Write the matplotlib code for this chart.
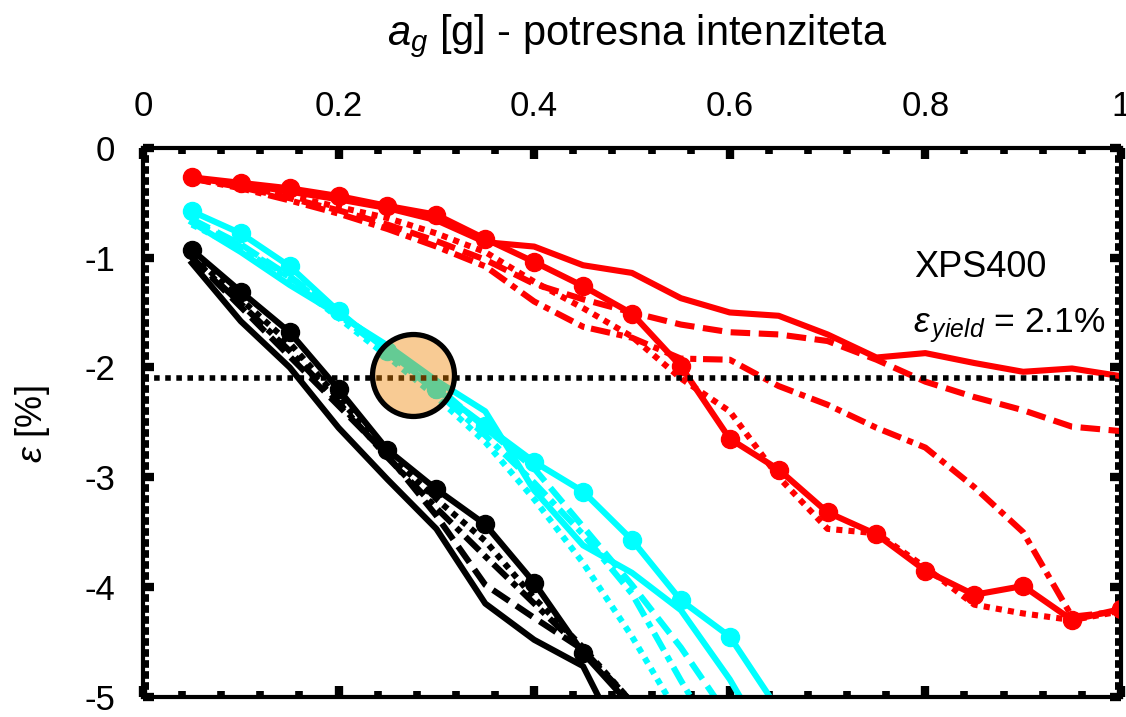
import matplotlib
matplotlib.use('Agg')
import matplotlib.pyplot as plt
from matplotlib.ticker import MultipleLocator, FixedLocator

plt.rcParams['font.family'] = ['Liberation Sans', 'DejaVu Sans']
plt.rcParams['mathtext.fontset'] = 'custom'
plt.rcParams['mathtext.rm'] = 'Liberation Sans'
plt.rcParams['mathtext.it'] = 'Liberation Sans:italic'

# ---- data ----
ag = [0.05, 0.10, 0.15, 0.20, 0.25, 0.30, 0.35, 0.40, 0.45, 0.50,
      0.55, 0.60, 0.65, 0.70, 0.75, 0.80, 0.85, 0.90, 0.95, 1.00]

red_marker = [-0.27, -0.32, -0.37, -0.44, -0.53, -0.61, -0.83, -1.04, -1.26, -1.51,
              -1.99, -2.65, -2.93, -3.32, -3.52, -3.85, -4.07, -3.99, -4.30, -4.20]
red_solid = [-0.28, -0.33, -0.40, -0.47, -0.55, -0.66, -0.86, -0.90, -1.07, -1.14,
             -1.37, -1.50, -1.53, -1.70, -1.91, -1.87, -1.96, -2.04, -2.01, -2.08]
red_dashed = [-0.28, -0.36, -0.46, -0.57, -0.70, -0.85, -1.02, -1.24, -1.38, -1.50,
              -1.61, -1.68, -1.70, -1.76, -1.93, -2.13, -2.27, -2.39, -2.54, -2.58]
red_dashdot = [-0.28, -0.37, -0.48, -0.60, -0.74, -0.90, -1.08, -1.40, -1.63, -1.73,
               -1.92, -1.93, -2.17, -2.34, -2.55, -2.73, -3.09, -3.50, -4.27, -4.22]
red_dotted = [-0.28, -0.35, -0.44, -0.54, -0.64, -0.78, -0.95, -1.22, -1.46, -1.72,
              -2.10, -2.40, -3.00, -3.47, -3.51, -3.82, -4.16, -4.24, -4.30, -4.22]

cyan_marker = [-0.58, -0.78, -1.08, -1.49, -1.85, -2.20, -2.53, -2.86, -3.13, -3.57,
               -4.12, -4.45, -5.12]
cyan_solid = [-0.68, -0.95, -1.25, -1.52, -1.80, -2.12, -2.40, -3.12, -3.62, -3.87,
              -4.21, -4.84, -5.60]
cyan_dashed = [-0.65, -0.88, -1.17, -1.50, -1.83, -2.17, -2.55, -2.92, -3.45, -3.98,
               -4.55, -5.20]
cyan_dashdot = [-0.67, -0.90, -1.18, -1.52, -1.87, -2.22, -2.62, -3.05, -3.52, -4.06,
                -4.85, -5.60]
cyan_dotted = [-0.70, -0.92, -1.20, -1.55, -1.90, -2.27, -2.68, -3.20, -3.78, -4.45,
               -5.20]

black_marker = [-0.93, -1.31, -1.68, -2.20, -2.75, -3.11, -3.43, -3.96, -4.60, -5.09]
black_solid = [-1.05, -1.58, -2.00, -2.55, -3.02, -3.47, -4.15, -4.48, -4.72, -5.60]
black_dashed = [-1.00, -1.45, -1.90, -2.35, -2.80, -3.35, -3.98, -4.28, -4.57, -5.05]
black_dashdot = [-1.00, -1.42, -1.85, -2.32, -2.82, -3.28, -3.72, -4.15, -4.58, -5.05]
black_dotted = [-0.98, -1.38, -1.78, -2.28, -2.78, -3.20, -3.58, -4.10, -4.55, -5.05]

eps_yield = -2.1
highlight = (0.276, -2.07)

x_ticks = [0, 0.2, 0.4, 0.6, 0.8, 1.0]
x_ticklabels = ['0', '0.2', '0.4', '0.6', '0.8', '1']
y_ticks = [0, -1, -2, -3, -4, -5]
y_ticklabels = ['0', '-1', '-2', '-3', '-4', '-5']

# ---- figure ----
fig = plt.figure(figsize=(11.26, 7.17), dpi=100)
ax = fig.add_axes([0.127, 0.028, 0.8685, 0.766])

LW = 4.4
DOT = (0, (1, 1))
DASH = (0, (3.2, 1.4))
DASHDOT = (0, (3.2, 1.1, 1.0, 1.1))

groups = [
    ('black', black_dotted, black_dashdot, black_dashed, black_solid, black_marker),
    ('cyan', cyan_dotted, cyan_dashdot, cyan_dashed, cyan_solid, cyan_marker),
    ('red', red_dotted, red_dashdot, red_dashed, red_solid, red_marker),
]
col_map = {'black': '#000000', 'cyan': '#00FFFF', 'red': '#FF0000'}
for name, dot, dd, dash, sol, mk in groups:
    c = col_map[name]
    ax.plot(ag[:len(dot)], dot, color=c, lw=LW, ls=DOT)
    ax.plot(ag[:len(dd)], dd, color=c, lw=LW, ls=DASHDOT)
    ax.plot(ag[:len(dash)], dash, color=c, lw=LW, ls=DASH)
    ax.plot(ag[:len(sol)], sol, color=c, lw=LW, ls='-')
    ax.plot(ag[:len(mk)], mk, color=c, lw=LW, ls='-', marker='o', ms=13)

ax.axhline(eps_yield, color='black', lw=4, ls=(0, (1, 1)), zorder=4)

ax.plot([highlight[0]], [highlight[1]], 'o', ms=59,
        mfc=(0.94, 0.52, 0.0, 0.42), mec='black', mew=3.8, zorder=6)

ax.set_xlim(0, 1)
ax.set_ylim(-5, 0)

ax.xaxis.set_major_locator(FixedLocator(x_ticks))
ax.set_xticklabels(x_ticklabels)
ax.xaxis.set_minor_locator(MultipleLocator(0.04))
ax.yaxis.set_major_locator(FixedLocator(y_ticks))
ax.set_yticklabels(y_ticklabels)
ax.yaxis.set_minor_locator(MultipleLocator(0.1))

ax.tick_params(axis='both', which='both', direction='in',
               top=True, bottom=True, left=True, right=True,
               labeltop=True, labelbottom=False, labelleft=True, labelright=False)
ax.tick_params(which='major', length=8, width=6, labelsize=25)
ax.tick_params(axis='x', which='major', pad=18)
ax.tick_params(axis='y', which='major', pad=20)
ax.tick_params(which='minor', length=4.5, width=5.5)

for s in ax.spines.values():
    s.set_linewidth(3)

fig.text(637 / 1126, 1 - 45 / 717, r'$a_g$ [g] - potresna intenziteta',
         ha='center', va='baseline', fontsize=30)
fig.text(32 / 1126, 1 - 424 / 717, r'$\varepsilon$ [%]',
         ha='center', va='center', rotation=90, fontsize=26)

ax.text(0.789, -1.09, 'XPS400', fontsize=26, va='center', ha='left')
ax.text(0.787, -1.62, r'$\varepsilon_{\,yield}$ = 2.1%', fontsize=25.5, va='center', ha='left')

fig.savefig('out.png', dpi=100)
